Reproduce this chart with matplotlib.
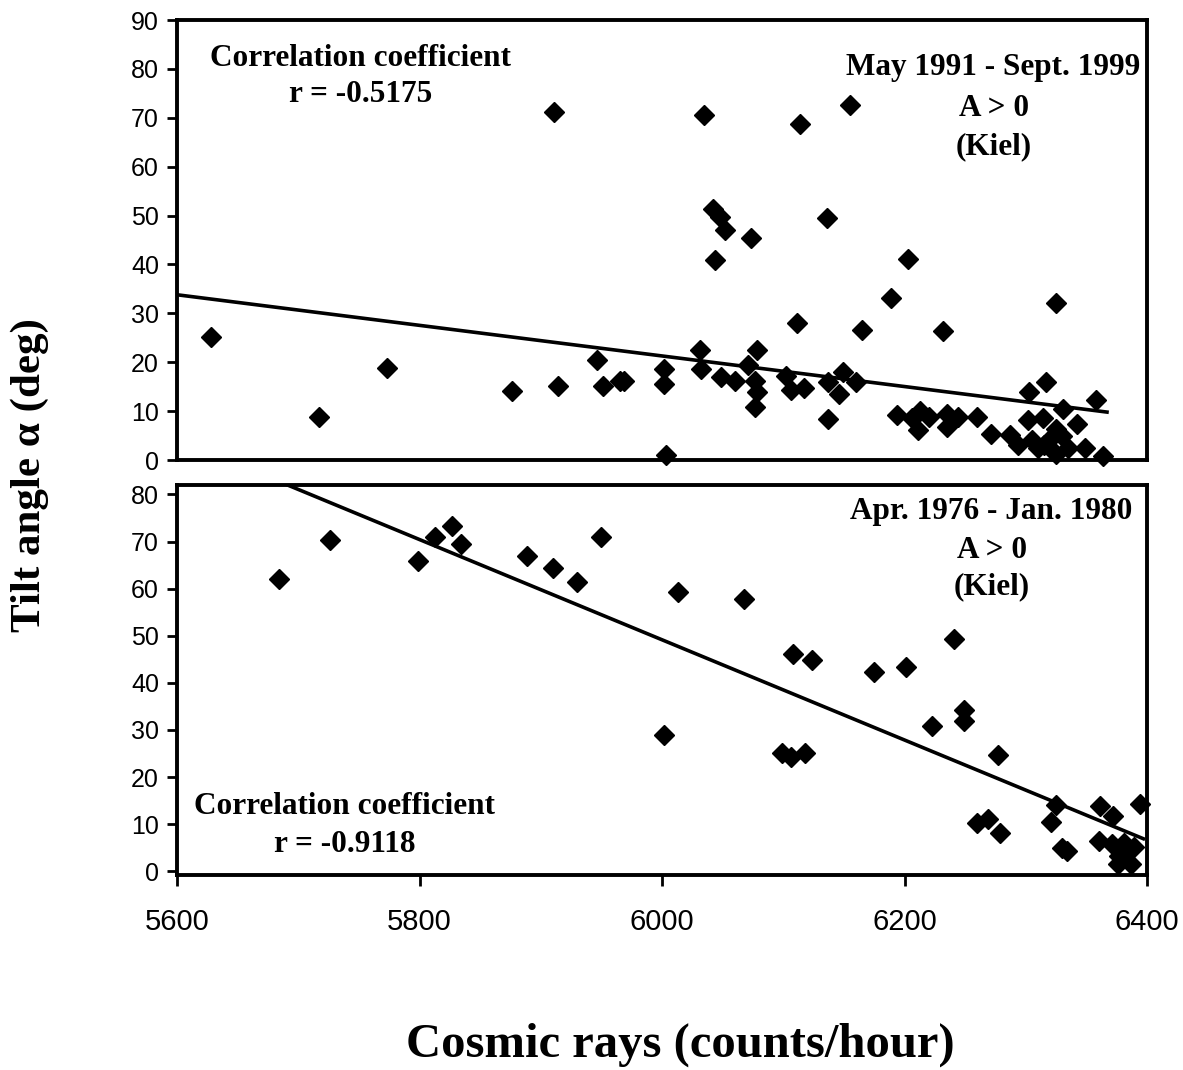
import matplotlib
matplotlib.use("Agg")
import matplotlib.pyplot as plt

# ---------------- data ----------------
# Top panel: May 1991 - Sept. 1999
top_x = [5628, 5717, 5773, 5876, 5911, 5914, 5946, 5951, 5965, 5969,
         6002, 6002, 6003, 6035, 6114, 6155, 6042, 6048, 6052, 6073,
         6136, 6044, 6203, 6189, 6325, 6111, 6165, 6232, 6031, 6078,
         6032, 6049, 6060, 6071, 6077, 6078, 6077, 6102, 6106, 6117,
         6137, 6146, 6149, 6160, 6137,
         6194, 6206, 6213, 6211, 6220, 6235, 6235, 6244, 6260,
         6317, 6303, 6358, 6331, 6342, 6271, 6287, 6294, 6302, 6314,
         6325, 6320, 6310, 6325, 6335, 6349, 6364, 6305, 6330, 6315]
top_y = [25.1, 8.7, 18.9, 14.2, 71.2, 15.2, 20.4, 15.2, 16.1, 16.1,
         18.6, 15.5, 1.0, 70.6, 68.8, 72.6, 51.4, 49.7, 47.1, 45.4,
         49.5, 41.0, 41.2, 33.2, 32.2, 28.0, 26.6, 26.4, 22.4, 22.5,
         18.7, 17.0, 16.1, 19.5, 16.1, 14.0, 10.9, 17.2, 14.4, 14.8,
         15.9, 13.5, 18.0, 16.0, 8.4,
         9.3, 8.6, 10.0, 6.2, 8.7, 9.4, 6.7, 8.7, 8.8,
         16.0, 14.0, 12.2, 10.5, 7.3, 5.4, 5.2, 3.1, 8.2, 8.6,
         6.3, 4.2, 2.4, 1.2, 2.5, 2.5, 0.8, 4.1, 5.0, 3.0]
top_fit_x = [5600, 6367]
top_fit_y = [33.8, 9.8]

# Bottom panel: Apr. 1976 - Jan. 1980
bot_x = [5684, 5726, 5799, 5813, 5827, 5834, 5889, 5910, 5930, 5950,
         6002, 6013, 6068, 6108, 6124, 6099, 6106, 6118, 6175, 6201,
         6241, 6249, 6249, 6223, 6277, 6260, 6269, 6279, 6325, 6321,
         6334, 6330, 6361, 6372, 6394, 6360, 6371, 6381, 6389, 6377,
         6376, 6387, 6383]
bot_y = [62.1, 70.3, 65.9, 70.9, 73.2, 69.4, 66.9, 64.3, 61.4, 70.9,
         28.9, 59.2, 57.9, 46.1, 44.8, 25.2, 24.3, 25.0, 42.3, 43.4,
         49.4, 34.3, 31.8, 30.8, 24.7, 10.3, 11.0, 8.2, 14.1, 10.5,
         4.2, 4.9, 13.8, 11.7, 14.3, 6.4, 5.7, 6.0, 5.1, 3.2,
         1.5, 1.6, 3.6]
bot_fit_x = [5600, 6397]
bot_fit_y = [91.7, 6.9]

x_ticks = [5600, 5800, 6000, 6200, 6400]
top_yticks = list(range(0, 91, 10))
bot_yticks = list(range(0, 81, 10))

# ---------------- figure ----------------
W, H = 1183, 1070
fig = plt.figure(figsize=(W / 100, H / 100), dpi=100)

serif = ["Liberation Serif", "DejaVu Serif"]
sans = ["Liberation Sans", "DejaVu Sans"]

ax_top = fig.add_axes([177 / W, 1 - 460 / H, 970 / W, 440 / H])
ax_bot = fig.add_axes([177 / W, 1 - 875 / H, 970 / W, 390 / H])

for ax in (ax_top, ax_bot):
    for sp in ax.spines.values():
        sp.set_linewidth(2.8)
        sp.set_color("black")
    ax.set_xlim(5600, 6400)
    ax.tick_params(axis="y", direction="out", length=7, width=2,
                   labelsize=18, pad=6, right=False)

ms = 10
# top panel
ax_top.plot(top_fit_x, top_fit_y, color="black", lw=2.6, zorder=2)
ax_top.plot(top_x, top_y, linestyle="none", marker="D", markersize=ms,
            color="black", clip_on=False, zorder=3)
ax_top.set_ylim(0, 90)
ax_top.set_yticks(top_yticks)
ax_top.set_xticks([])
for lbl in ax_top.get_yticklabels():
    lbl.set_family(sans)

# bottom panel
ax_bot.plot(bot_fit_x, bot_fit_y, color="black", lw=2.6, zorder=2)
ax_bot.plot(bot_x, bot_y, linestyle="none", marker="D", markersize=ms,
            color="black", clip_on=False, zorder=3)
ax_bot.set_ylim(-0.8, 82)
ax_bot.set_yticks(bot_yticks)
ax_bot.set_xticks(x_ticks)
ax_bot.tick_params(axis="x", direction="out", length=8, width=2,
                   labelsize=21, pad=16, top=False)
for lbl in ax_bot.get_xticklabels() + ax_bot.get_yticklabels():
    lbl.set_family(sans)

# annotations
fs = 22.5
kw = dict(ha="center", va="center", fontsize=fs, fontweight="bold",
          family=serif)
ax_top.text(0.189, 0.913, "Correlation coefficient", transform=ax_top.transAxes, **kw)
ax_top.text(0.189, 0.830, "r = -0.5175", transform=ax_top.transAxes, **kw)
ax_top.text(0.841, 0.891, "May 1991 - Sept. 1999", transform=ax_top.transAxes, **kw)
ax_top.text(0.842, 0.800, "A > 0", transform=ax_top.transAxes, **kw)
ax_top.text(0.842, 0.711, "(Kiel)", transform=ax_top.transAxes, **kw)

ax_bot.text(0.839, 0.931, "Apr. 1976 - Jan. 1980", transform=ax_bot.transAxes, **kw)
ax_bot.text(0.840, 0.833, "A > 0", transform=ax_bot.transAxes, **kw)
ax_bot.text(0.840, 0.739, "(Kiel)", transform=ax_bot.transAxes, **kw)
ax_bot.text(0.173, 0.175, "Correlation coefficient", transform=ax_bot.transAxes, **kw)
ax_bot.text(0.173, 0.077, "r = -0.9118", transform=ax_bot.transAxes, **kw)

# axis titles
fig.text(30 / W, 1 - 475 / H, "Tilt angle α (deg)", rotation=90,
         ha="center", va="center", fontsize=31, fontweight="bold", family=serif)
fig.text(680 / W, 1 - 1045 / H, "Cosmic rays (counts/hour)",
         ha="center", va="center", fontsize=35, fontweight="bold", family=serif)

fig.savefig("out.png", dpi=100, facecolor="white")
